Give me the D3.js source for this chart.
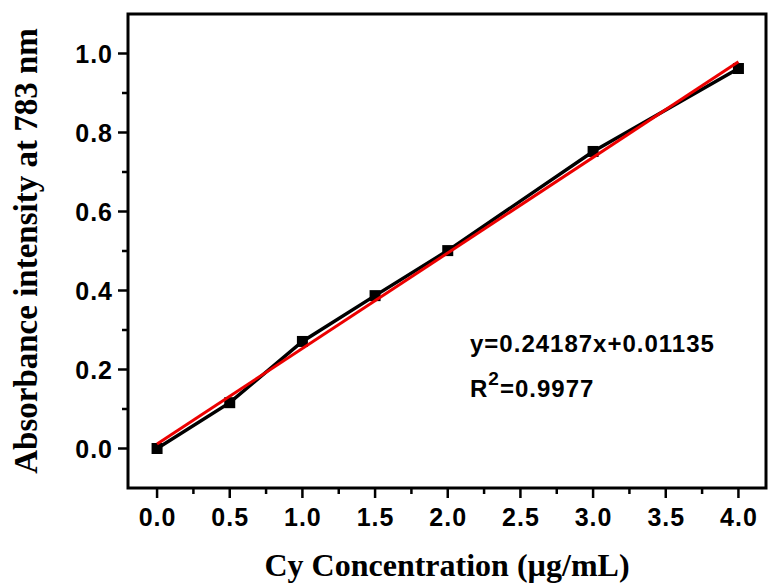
<!DOCTYPE html>
<html>
<head>
<meta charset="utf-8">
<script src="https://cdn.jsdelivr.net/npm/d3@7"></script>
<style>
  body { margin: 0; background: #fff; }
  .tick-label { font-family: "Liberation Sans", Arial, sans-serif; font-weight: bold; font-size: 25px; letter-spacing: 1px; }
  .axis-title { font-family: "Liberation Serif", "Times New Roman", serif; font-weight: bold; font-size: 32px; }
  .eq { font-family: "Liberation Sans", Arial, sans-serif; font-weight: bold; font-size: 24px; letter-spacing: 1px; }
</style>
</head>
<body>
<div id="chart"></div>
<script>
// measured points
const concentration = [0, 0.5, 1.0, 1.5, 2.0, 3.0, 4.0];
const absorbance = [0, 0.116, 0.271, 0.387, 0.501, 0.752, 0.962];

// linear fit
const slope = 0.24187;
const intercept = 0.01135;
const fitRange = [0, 4];

const xTicks = [0, 0.5, 1.0, 1.5, 2.0, 2.5, 3.0, 3.5, 4.0];
const yTicks = [0, 0.2, 0.4, 0.6, 0.8, 1.0];

const xTitle = 'Cy Concentration (\u00b5g/mL)';
const yTitle = 'Absorbance intensity at 783 nm';

const width = 769, height = 588;
const mLeft = 128, mRight = 766, mTop = 14, mBottom = 488;

const svg = d3.select('#chart').append('svg')
    .attr('width', width)
    .attr('height', height);

const x = d3.scaleLinear().domain([-0.2, 4.2]).range([mLeft, mRight + 1.5]);
const y = d3.scaleLinear().domain([-0.1, 1.1]).range([mBottom, mTop]);

// minor ticks
const xMinor = d3.range(0.25, 4.2, 0.5);
const yMinor = d3.range(0.1, 1.1, 0.2).map(v => +v.toFixed(2));

svg.selectAll('.x-minor').data(xMinor).enter().append('line')
    .attr('x1', d => x(d)).attr('x2', d => x(d))
    .attr('y1', mBottom).attr('y2', mBottom + 6)
    .attr('stroke', '#000').attr('stroke-width', 2.5);

svg.selectAll('.x-major').data(xTicks).enter().append('line')
    .attr('x1', d => x(d)).attr('x2', d => x(d))
    .attr('y1', mBottom).attr('y2', mBottom + 10)
    .attr('stroke', '#000').attr('stroke-width', 2.5);

svg.selectAll('.y-minor').data(yMinor).enter().append('line')
    .attr('x1', mLeft - 6).attr('x2', mLeft)
    .attr('y1', d => y(d)).attr('y2', d => y(d))
    .attr('stroke', '#000').attr('stroke-width', 2.5);

svg.selectAll('.y-major').data(yTicks).enter().append('line')
    .attr('x1', mLeft - 10).attr('x2', mLeft)
    .attr('y1', d => y(d)).attr('y2', d => y(d))
    .attr('stroke', '#000').attr('stroke-width', 2.5);

svg.selectAll('.x-label').data(xTicks).enter().append('text')
    .attr('class', 'tick-label')
    .attr('x', d => x(d) + 0.5)
    .attr('y', 526)
    .attr('text-anchor', 'middle')
    .text(d => d.toFixed(1));

svg.selectAll('.y-label').data(yTicks).enter().append('text')
    .attr('class', 'tick-label')
    .attr('x', 113)
    .attr('y', d => y(d) + 9)
    .attr('text-anchor', 'end')
    .text(d => d.toFixed(1));

// frame
svg.append('rect')
    .attr('x', mLeft).attr('y', mTop)
    .attr('width', mRight - mLeft).attr('height', mBottom - mTop)
    .attr('fill', 'none')
    .attr('stroke', '#000').attr('stroke-width', 3);

// data line + markers
const pts = concentration.map((c, i) => [c, absorbance[i]]);
const line = d3.line().x(d => x(d[0])).y(d => y(d[1]));

svg.append('path')
    .attr('d', line(pts))
    .attr('fill', 'none')
    .attr('stroke', '#000')
    .attr('stroke-width', 3.5);

svg.selectAll('.pt').data(pts).enter().append('rect')
    .attr('x', d => x(d[0]) - 5.5)
    .attr('y', d => y(d[1]) - 5.5)
    .attr('width', 11).attr('height', 11)
    .attr('fill', '#000');

// fit line
svg.append('path')
    .attr('d', line(fitRange.map(c => [c, slope * c + intercept])))
    .attr('fill', 'none')
    .attr('stroke', '#ec0000')
    .attr('stroke-width', 3);

// equation
svg.append('text')
    .attr('class', 'eq')
    .attr('x', 470).attr('y', 352)
    .text('y=' + slope + 'x+' + intercept);

const r2 = svg.append('text')
    .attr('class', 'eq')
    .attr('x', 470).attr('y', 397);
r2.append('tspan').text('R');
r2.append('tspan').attr('dy', -12).style('font-size', '19px').text('2');
r2.append('tspan').attr('dy', 12).text('=0.9977');

// axis titles
svg.append('text')
    .attr('class', 'axis-title')
    .attr('x', (mLeft + mRight) / 2)
    .attr('y', 576)
    .attr('text-anchor', 'middle')
    .text(xTitle);

svg.append('text')
    .attr('class', 'axis-title')
    .style('font-size', '33px')
    .attr('transform', 'translate(37,' + ((mTop + mBottom) / 2) + ') rotate(-90)')
    .attr('text-anchor', 'middle')
    .text(yTitle);
</script>
</body>
</html>
